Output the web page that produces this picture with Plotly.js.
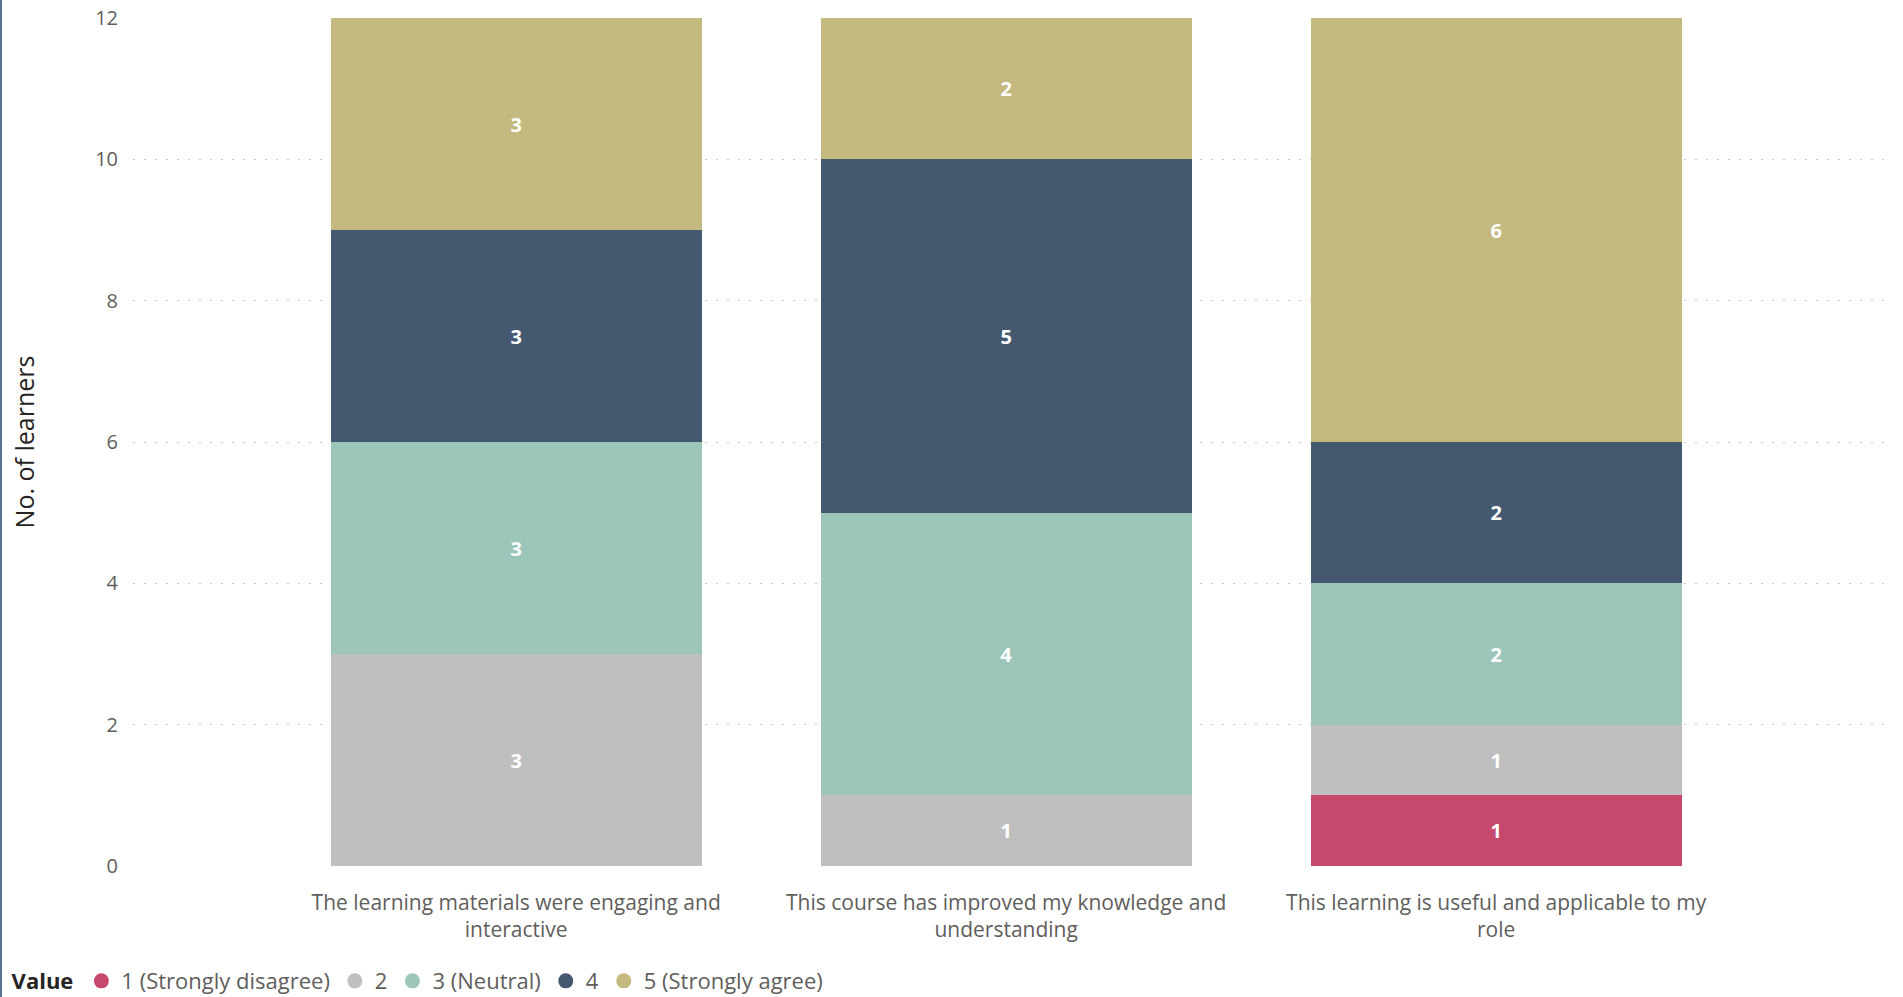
<!DOCTYPE html>
<html>
<head>
<meta charset="utf-8">
<script src="https://cdn.plot.ly/plotly-3.0.1.min.js"></script>
<style>
  html, body { margin: 0; padding: 0; background: #ffffff; }
  #chart { width: 1903px; height: 997px; box-sizing: border-box; border-left: 2px solid #5a7394; }
</style>
</head>
<body>
<div id="chart"></div>
<script>
const categories = [
  "The learning materials were engaging and<br>interactive",
  "This course has improved my knowledge and<br>understanding",
  "This learning is useful and applicable to my<br>role"
];
const seriesNames = ["1 (Strongly disagree)", "2", "3 (Neutral)", "4", "5 (Strongly agree)"];
const seriesColors = ["#C7486D", "#BFBFBF", "#9DC6BA", "#44596F", "#C4B97E"];
const stronglyDisagree = [null, null, 1];
const disagree = [3, 1, 1];
const neutral = [3, 4, 2];
const agree = [3, 5, 2];
const stronglyAgree = [3, 2, 6];
const yTicks = [0, 2, 4, 6, 8, 10, 12];

const values = [stronglyDisagree, disagree, neutral, agree, stronglyAgree];
const FONT = "Segoe UI, Open Sans, sans-serif";

const traces = [];
values.forEach((vals, i) => {
  traces.push({
    type: "bar",
    x: [0, 1, 2],
    y: vals,
    name: seriesNames[i],
    marker: { color: seriesColors[i], line: { width: 0 } },
    texttemplate: "%{y}",
    textposition: "inside",
    insidetextanchor: "middle",
    textangle: 0,
    textfont: { family: FONT, size: 20, color: "#ffffff", weight: "bold" },
    showlegend: false,
    hoverinfo: "y+name"
  });
});
values.forEach((vals, i) => {
  traces.push({
    type: "scatter",
    mode: "markers",
    x: [null],
    y: [null],
    name: seriesNames[i],
    marker: { color: seriesColors[i], symbol: "circle", size: 15 },
    showlegend: true
  });
});

const layout = {
  width: 1901,
  height: 997,
  paper_bgcolor: "#ffffff",
  plot_bgcolor: "#ffffff",
  barmode: "stack",
  bargap: 0.243,
  margin: { l: 131, r: 10, t: 18, b: 131, autoexpand: false },
  font: { family: FONT, color: "#605E5C" },
  xaxis: {
    range: [-0.782, 2.81],
    tickmode: "array",
    tickvals: [0, 1, 2],
    ticktext: categories,
    showgrid: false,
    zeroline: false,
    showline: false,
    ticks: "",
    ticklabelstandoff: 22,
    tickfont: { family: FONT, size: 21, color: "#605E5C" },
    automargin: false,
    fixedrange: true
  },
  yaxis: {
    range: [0, 12],
    tickmode: "array",
    tickvals: yTicks,
    showgrid: true,
    gridcolor: "#C8C8C8",
    griddash: "2px,9px",
    gridwidth: 1,
    zeroline: false,
    showline: false,
    ticks: "",
    ticklabelstandoff: 14,
    tickfont: { family: FONT, size: 20, color: "#605E5C" },
    title: {
      text: "No. of learners",
      font: { family: FONT, size: 25, color: "#252423" },
      standoff: 53
    },
    automargin: false,
    fixedrange: true
  },
  legend: {
    orientation: "h",
    traceorder: "normal",
    xref: "container",
    yref: "container",
    x: 0.004,
    xanchor: "left",
    y: 0.016,
    yanchor: "middle",
    font: { family: FONT, size: 22, color: "#605E5C" },
    title: { text: "<b>Value</b>", side: "left", font: { family: FONT, size: 22, color: "#252423" } },
    itemwidth: 30,
    tracegroupgap: 0,
    bgcolor: "rgba(0,0,0,0)"
  },
  showlegend: true
};

Plotly.newPlot("chart", traces, layout, { displayModeBar: false, staticPlot: true });
</script>
</body>
</html>
